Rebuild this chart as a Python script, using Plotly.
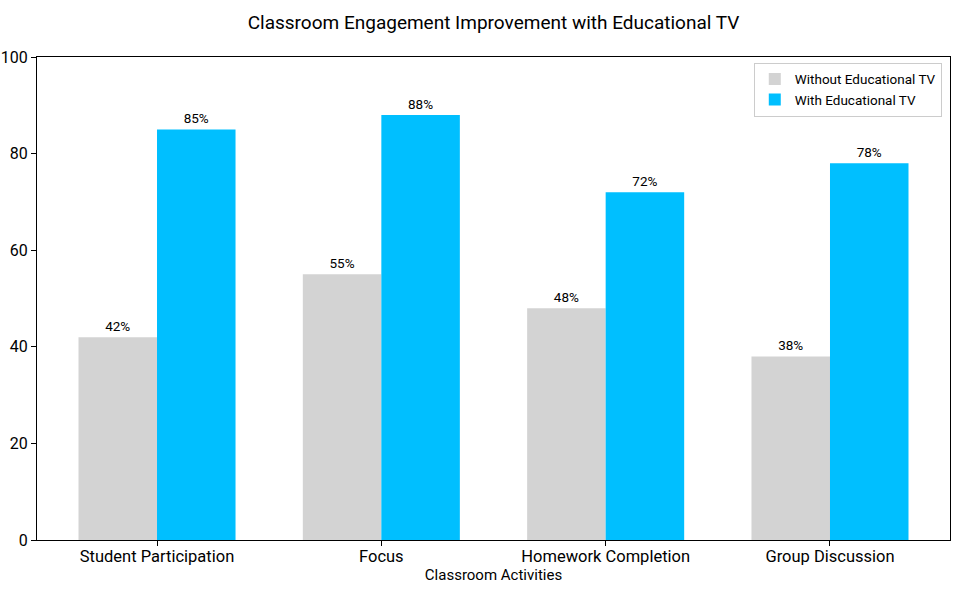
import plotly.graph_objects as go

categories = ["Student Participation", "Focus", "Homework Completion", "Group Discussion"]
without_tv = [42, 55, 48, 38]
with_tv = [85, 88, 72, 78]

FONT = "Roboto"

fig = go.Figure()
fig.add_trace(go.Bar(
    x=categories, y=without_tv, name="Without Educational TV",
    marker=dict(color="#D3D3D3", line=dict(width=0)),
    text=[f"{v}%" for v in without_tv], textposition="outside",
    textfont=dict(size=13.5, color="black", family=FONT), cliponaxis=False,
))
fig.add_trace(go.Bar(
    x=categories, y=with_tv, name="With Educational TV",
    marker=dict(color="#00BFFF", line=dict(width=0)),
    text=[f"{v}%" for v in with_tv], textposition="outside",
    textfont=dict(size=13.5, color="black", family=FONT), cliponaxis=False,
))

fig.update_layout(
    width=965, height=592,
    barmode="group", bargap=0.3, bargroupgap=0,
    plot_bgcolor="white", paper_bgcolor="white",
    font=dict(family=FONT, color="black"),
    margin=dict(l=37, r=15, t=57, b=52),
    title=dict(text="Classroom Engagement Improvement with Educational TV",
               x=0.5, xref="paper", y=0.963, yanchor="middle",
               font=dict(size=19, family=FONT)),
    legend=dict(x=0.991, y=0.988, xanchor="right", yanchor="top",
                bordercolor="#CCCCCC", borderwidth=1, bgcolor="white",
                font=dict(size=13.5, family=FONT), tracegroupgap=0),
)
fig.update_xaxes(
    range=[-0.535, 3.535], showline=True, linecolor="black", linewidth=1,
    mirror=True, ticks="outside", ticklen=5, tickcolor="black",
    tickfont=dict(size=16.5), showgrid=False, automargin=False,
    ticklabelstandoff=-4,
    title=dict(text="Classroom Activities", font=dict(size=15), standoff=0),
)
fig.update_yaxes(
    range=[0, 100], dtick=20, showline=True, linecolor="black", linewidth=1,
    mirror=True, ticks="outside", ticklen=5, tickcolor="black",
    tickfont=dict(size=16), showgrid=False, zeroline=False, automargin=False,
)

# drop the default page margin so the figure sits at the window's corner
fig.write_html("out.html", config={"displayModeBar": False},
               post_script="document.body.style.margin='0';")
